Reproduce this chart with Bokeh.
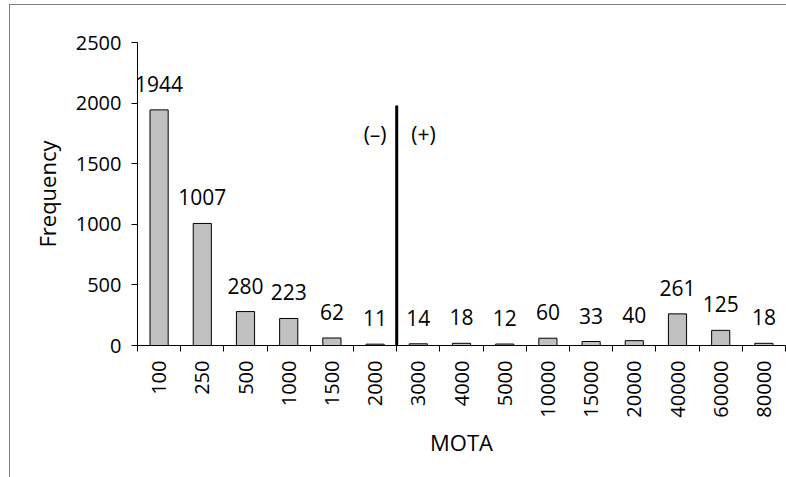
import math
from bokeh.plotting import figure
from bokeh.models import FixedTicker, ColumnDataSource, Range1d
from bokeh.core.properties import value
from bokeh.embed import file_html
from bokeh.resources import INLINE

categories = ["100", "250", "500", "1000", "1500", "2000", "3000", "4000", "5000",
              "10000", "15000", "20000", "40000", "60000", "80000"]
frequency = [1944, 1007, 280, 223, 62, 11, 14, 18, 12, 60, 33, 40, 261, 125, 18]
y_ticks = [0, 500, 1000, 1500, 2000, 2500]
divider_after = 6          # boundary between "2000" and "3000"
divider_top = 1980
sign_labels = ["(–)", "(+)"]

FONT = "Open Sans"
n = len(categories)
xs = list(range(n))

p = figure(width=786, height=477, output_backend="svg", toolbar_location=None,
           x_range=Range1d(-0.5, n - 0.5), y_range=Range1d(0, 2500),
           min_border_left=137, min_border_right=1, min_border_top=42,
           min_border_bottom=132)
p.styles = {"background": "linear-gradient(#808080,#808080) 9px 4px / 1px 100% no-repeat, "
                          "linear-gradient(#808080,#808080) 9px 4px / 100% 1px no-repeat, white"}
p.outline_line_color = None
p.xgrid.visible = False
p.ygrid.visible = False
p.background_fill_color = None
p.border_fill_color = None

src = ColumnDataSource(dict(x=xs, top=frequency, label=[str(v) for v in frequency]))
p.vbar(x="x", top="top", width=0.42, bottom=0, source=src,
       fill_color="#c0c0c0", line_color="black", line_width=1)
p.text(x="x", y="top", text="label", source=src, text_align="center",
       text_baseline="alphabetic", y_offset=-26, text_font=value(FONT),
       text_font_size="21px", text_color="black")

# divider line
p.segment(x0=[divider_after - 0.5], y0=[0], x1=[divider_after - 0.5], y1=[divider_top],
          line_color="black", line_width=3)
p.text(x=[divider_after - 1.0, divider_after + 0.12], y=[1741, 1741], text=sign_labels,
       text_align="center", text_baseline="middle", text_font=value(FONT),
       text_font_size="21px", text_color="black")

# x axis
xa = p.xaxis[0]
xa.ticker = FixedTicker(ticks=xs, minor_ticks=[i - 0.5 for i in range(n + 1)])
xa.major_label_overrides = {i: c for i, c in enumerate(categories)}
xa.major_label_orientation = math.pi / 2
xa.major_tick_in = 0
xa.major_tick_out = 0
xa.minor_tick_in = 0
xa.minor_tick_out = 6
xa.minor_tick_line_color = "black"
xa.axis_line_color = "black"
xa.major_label_standoff = 9
xa.major_label_text_font = FONT
xa.major_label_text_font_size = "20px"
xa.major_label_text_color = "black"
xa.axis_label = "MOTA"
xa.axis_label_text_font = FONT
xa.axis_label_text_font_size = "22px"
xa.axis_label_text_font_style = "normal"
xa.axis_label_text_color = "black"
xa.axis_label_standoff = 6

# y axis
ya = p.yaxis[0]
ya.ticker = FixedTicker(ticks=y_ticks)
ya.minor_tick_line_color = None
ya.major_tick_in = 0
ya.major_tick_out = 6
ya.major_tick_line_color = "black"
ya.axis_line_color = "black"
ya.major_label_standoff = 10
ya.major_label_text_font = FONT
ya.major_label_text_font_size = "20px"
ya.major_label_text_color = "black"
ya.axis_label = "Frequency"
ya.axis_label_text_font = FONT
ya.axis_label_text_font_size = "22px"
ya.axis_label_text_font_style = "normal"
ya.axis_label_text_color = "black"
ya.axis_label_standoff = 11

open("out.html", "w").write(file_html(p, INLINE))
